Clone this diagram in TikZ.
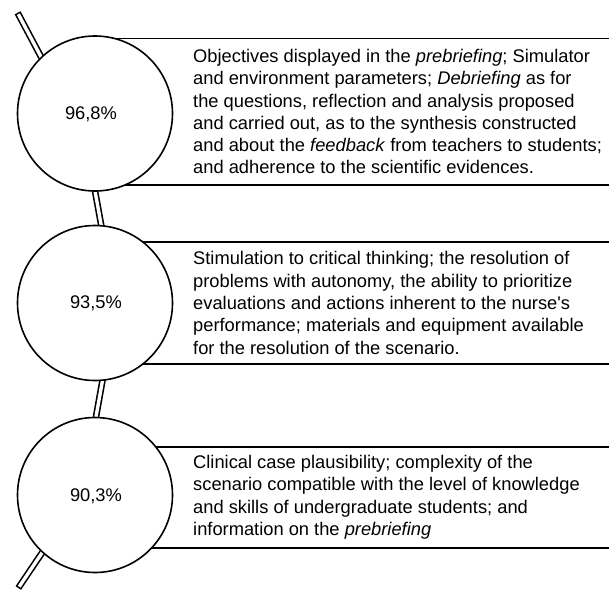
\documentclass[tikz,border=0pt]{standalone}
\usepackage{fontspec}
\setmainfont{Liberation Sans}
\begin{document}
\begin{tikzpicture}[x=1pt,y=-1pt,
  boxline/.style={line width=1.8pt},
  bead/.style={circle,draw,line width=1.6pt,fill=white,minimum size=155pt,inner sep=0pt},
  pct/.style={inner sep=0pt,font=\fontsize{18.3}{22.3}\selectfont},
  desc/.style={anchor=west,inner sep=0pt,align=left,font=\fontsize{18.3}{22.3}\selectfont},
  pipeout/.style={line width=6.6pt,black},
  pipein/.style={line width=3.4pt,white}]
\useasboundingbox (0,0) rectangle (609,591);
% box lines
\draw[boxline] (95,38.5) -- (609,38.5);
\draw[boxline] (95,185) -- (609,185);
\draw[boxline] (95,241.7) -- (609,241.7);
\draw[boxline] (95,364) -- (609,364);
\draw[boxline] (95,446.7) -- (609,446.7);
\draw[boxline] (95,548) -- (609,548);
% chain coordinates
\coordinate (t0) at (17.6,12.8);
\coordinate (t1) at (48,70);
\coordinate (m1a) at (93,180);
\coordinate (m1b) at (103,235);
\coordinate (m2a) at (104,372);
\coordinate (m2b) at (94,428);
\coordinate (b1) at (50,541);
\coordinate (b0) at (18.3,588);
% pipes
\draw[pipeout] (t0) -- (t1);
\draw[pipein,shorten <=1.6pt] (t0) -- (t1);
\draw[pipeout] (m1a) -- (m1b);
\draw[pipein] (m1a) -- (m1b);
\draw[pipeout] (m2a) -- (m2b);
\draw[pipein] (m2a) -- (m2b);
\draw[pipeout] (b1) -- (b0);
\draw[pipein,shorten >=1.6pt] (b1) -- (b0);
% beads
\node[bead] (c1) at (95,113.5) {};
\node[bead] (c2) at (95,303) {};
\node[bead] (c3) at (95,495) {};
\node[pct] (l1) at (91,114.5) {96,8\%};
\node[pct] (l2) at (96,303.3) {93,5\%};
\node[pct] (l3) at (96,496) {90,3\%};
% texts
\node[desc] (d1) at (193,111.7) {Objectives displayed in the \textit{prebriefing}; Simulator\\
and environment parameters; \textit{Debriefing} as for\\
the questions, reflection and analysis proposed\\
and carried out, as to the synthesis constructed\\
and about the \textit{feedback} from teachers to students;\\
and adherence to the scientific evidences.};
\node[desc] (d2) at (193,303) {Stimulation to critical thinking; the resolution of\\
problems with autonomy, the ability to prioritize\\
evaluations and actions inherent to the nurse\textquotesingle s\\
performance; materials and equipment available\\
for the resolution of the scenario.};
\node[desc] (d3) at (193,497.4) {Clinical case plausibility; complexity of the\\
scenario compatible with the level of knowledge\\
and skills of undergraduate students; and\\
information on the \textit{prebriefing}};
\end{tikzpicture}
\end{document}
